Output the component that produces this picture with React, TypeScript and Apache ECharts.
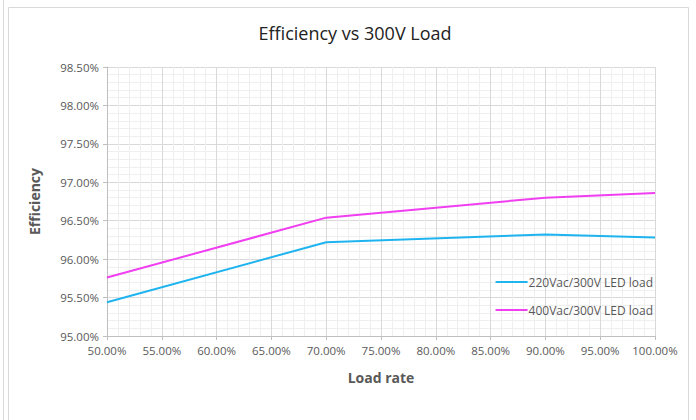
import React, { useEffect, useRef } from "react";
import * as echarts from "echarts";

const loadRates = [50, 70, 90, 100];
const series220 = [95.44, 96.22, 96.32, 96.28];
const series400 = [95.76, 96.54, 96.80, 96.86];
const seriesNames = ["220Vac/300V LED load", "400Vac/300V LED load"];
const seriesColors = ["#1fb4ef", "#f03ff0"];
const titleText = "Efficiency vs 300V Load";

export default function App() {
  const ref = useRef<HTMLDivElement>(null);
  useEffect(() => {
    if (!ref.current) return;
    const chart = echarts.init(ref.current, null, { renderer: "svg" });
    const font = "'Open Sans', 'Noto Sans', sans-serif";
    chart.setOption({
      animation: false,
      backgroundColor: "#ffffff",
      textStyle: { fontFamily: font },
      title: {
        text: titleText,
        left: 350,
        textAlign: "center",
        top: 19,
        textStyle: { fontSize: 18, fontWeight: "normal", color: "#222", fontFamily: font },
      },
      graphic: [
        { type: "rect", shape: { x: 8.5, y: 7.5, width: 680, height: 420 }, style: { fill: "none", stroke: "#d9d9d9", lineWidth: 1 } },
        { type: "line", shape: { x1: 3.5, y1: 0, x2: 3.5, y2: 420 }, style: { stroke: "#d9d9d9", lineWidth: 1 } },
      ],
      grid: { left: 107, right: 41, top: 67, bottom: 84 },
      legend: {
        orient: "vertical",
        right: 38,
        top: 271,
        itemGap: 16,
        itemWidth: 32,
        itemHeight: 2,
        icon: "rect",
        textStyle: { color: "#595959", fontSize: 12, fontFamily: font, padding: [0, 0, 0, -4] },
        data: seriesNames,
      },
      xAxis: {
        type: "value",
        min: 50,
        max: 100,
        interval: 5,
        name: "Load rate",
        nameLocation: "middle",
        nameGap: 34,
        nameTextStyle: { fontSize: 14, fontWeight: "bold", color: "#595959", fontFamily: font },
        axisLine: { show: true, lineStyle: { color: "#bfbfbf" } },
        axisTick: { show: true, length: 4, lineStyle: { color: "#bfbfbf" } },
        axisLabel: { color: "#595959", fontSize: 11.5, margin: 8, formatter: (v: number) => v.toFixed(2) + "%" },
        splitLine: { show: true, lineStyle: { color: "#d9d9d9" } },
        minorTick: { show: false, splitNumber: 5 },
        minorSplitLine: { show: true, lineStyle: { color: "#efefef" } },
      },
      yAxis: {
        type: "value",
        min: 95,
        max: 98.5,
        interval: 0.5,
        name: "Efficiency",
        nameLocation: "middle",
        nameGap: 66,
        nameRotate: 90,
        nameTextStyle: { fontSize: 14, fontWeight: "bold", color: "#595959", fontFamily: font },
        axisLine: { show: true, lineStyle: { color: "#bfbfbf" } },
        axisTick: { show: true, length: 4, lineStyle: { color: "#bfbfbf" } },
        axisLabel: { color: "#595959", fontSize: 11.5, margin: 8, formatter: (v: number) => v.toFixed(2) + "%" },
        splitLine: { show: true, lineStyle: { color: "#d9d9d9" } },
        minorTick: { show: false, splitNumber: 5 },
        minorSplitLine: { show: true, lineStyle: { color: "#efefef" } },
      },
      series: [
        {
          name: seriesNames[0],
          type: "line",
          data: loadRates.map((x, i) => [x, series220[i]]),
          showSymbol: false,
          symbol: "none",
          lineStyle: { color: seriesColors[0], width: 2 },
          itemStyle: { color: seriesColors[0] },
        },
        {
          name: seriesNames[1],
          type: "line",
          data: loadRates.map((x, i) => [x, series400[i]]),
          showSymbol: false,
          symbol: "none",
          lineStyle: { color: seriesColors[1], width: 2 },
          itemStyle: { color: seriesColors[1] },
        },
      ],
    });
    return () => chart.dispose();
  }, []);
  return <div ref={ref} style={{ width: 696, height: 420, position: "absolute", left: 0, top: 0 }} />;
}
